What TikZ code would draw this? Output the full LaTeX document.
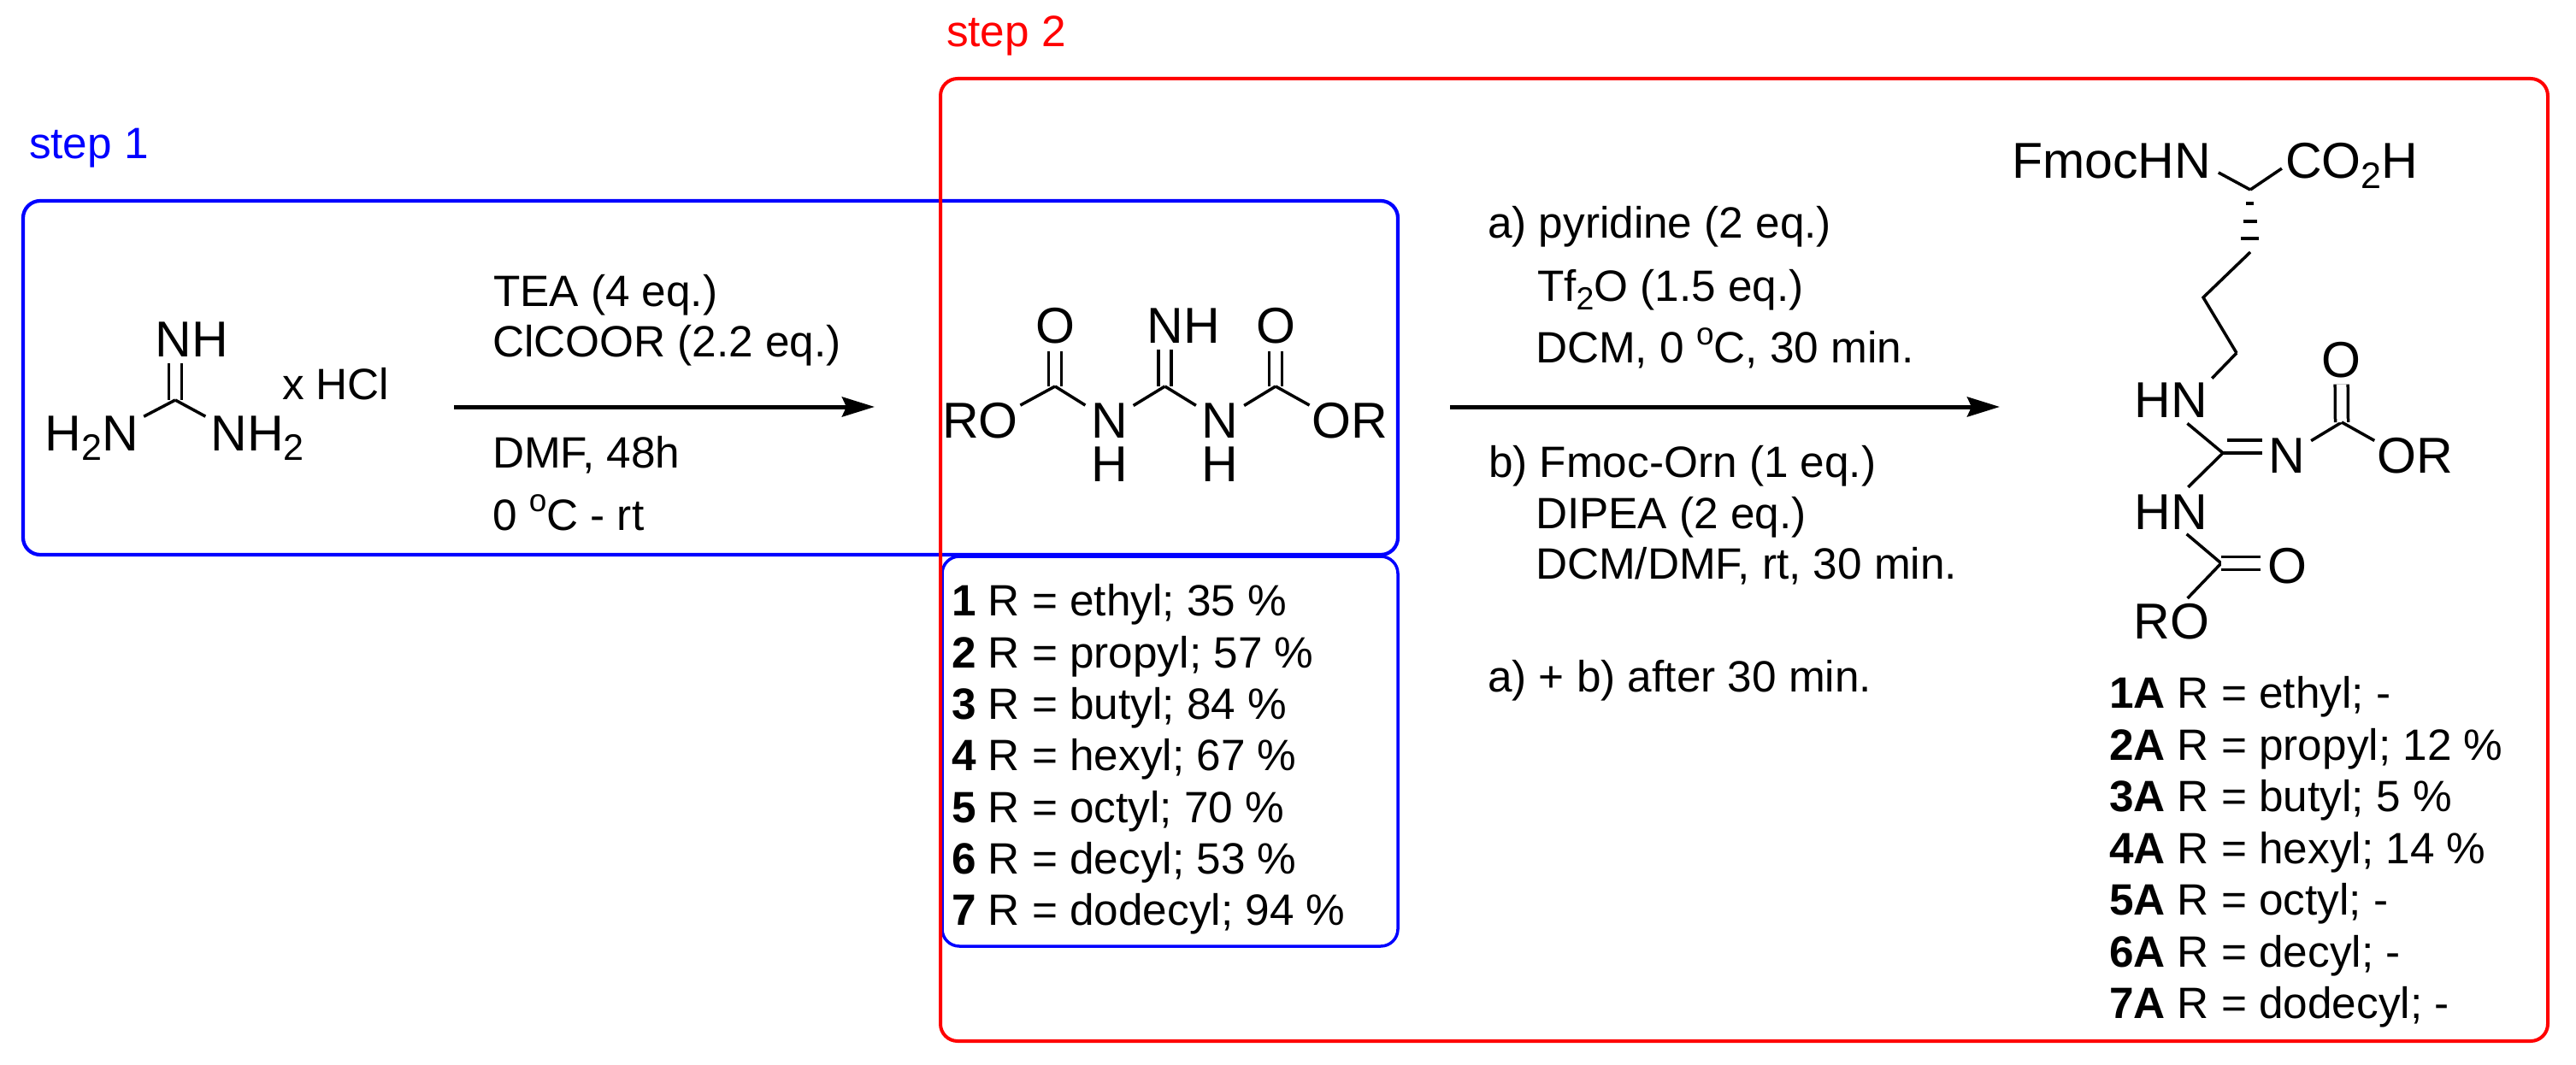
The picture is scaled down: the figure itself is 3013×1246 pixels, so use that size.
\documentclass[tikz,border=0pt]{standalone}
\usepackage{fontspec}
\setmainfont{Liberation Sans}
\usetikzlibrary{arrows.meta}
\newcommand{\subn}[1]{\raisebox{-.2em}{\scalebox{.73}{#1}}}
\newcommand{\degr}{\raisebox{.42em}{\scalebox{.72}{o}}}
\tikzset{
  atom/.style={inner sep=0pt,outer sep=0pt,font=\fontsize{16.8}{20}\selectfont,anchor=base},
  txt/.style={inner sep=0pt,outer sep=0pt,font=\fontsize{14.6}{17}\selectfont,anchor=base west},
  bond/.style={line width=.35mm,shorten >=.8mm},
  bondd/.style={line width=.35mm,double,double distance=1.15mm,shorten >=.8mm},
  hash/.style={line width=.38mm},
  rxn/.style={line width=.5mm,-{Stealth[length=3.8mm,width=2.3mm,inset=.5mm]}},
  boxa/.style={draw=blue,line width=.42mm,rounded corners=2mm},
  boxb/.style={draw=red,line width=.4mm,rounded corners=2mm}
}
\begin{document}
\begin{tikzpicture}[x=.1mm,y=-.1mm]
        \path[use as bounding box] (0,0) rectangle (3013,1246);

        % draw boxes
        \draw[boxa] (27,235) rectangle (1635,649);
        \draw[boxa,line width=.35mm] (1102,651) rectangle (1635,1107);
        \draw[boxb] (1100,92) rectangle (2980,1218);

        % draw step labels
        \node[txt,text=blue] (stepa) at (34,186) {step 1};
        \node[txt,text=red] (stepb) at (1107,55) {step 2};

        % draw guanidine
        \coordinate (cg) at (205,468);
        \node[atom,anchor=base west] (gn) at (181.5,417) {NH};
        \node[atom,anchor=base east] (gl) at (162,527) {H\subn{2}N};
        \node[atom,anchor=base west] (gr) at (246.5,527) {NH\subn{2}};
        \node[txt] (hcl) at (330,467) {x HCl};
        \draw[bondd] (cg) -- (cg |- gn.south);
        \draw[bond,shorten >=.7mm] (cg) -- (gl.22);
        \draw[bond,shorten >=.7mm] (cg) -- (gr.158);

        % draw first arrow and conditions
        \coordinate (arra) at (531,476);
        \coordinate (arrb) at (1023,476);
        \draw[rxn] (arra) -- (arrb);
        \node[txt] (tea) at (577,358) {TEA (4 eq.)};
        \node[txt] (cico) at (576,417) {ClCOOR (2.2 eq.)};
        \node[txt] (dmf) at (576,547) {DMF, 48h};
        \node[txt] (temp) at (576,620) {0 \degr C - rt};

        % draw middle compound
        \coordinate (ca) at (1234,452);
        \coordinate (cb) at (1362.5,452);
        \coordinate (cc) at (1492,452);
        \node[atom] (oa) at (1234,402) {O};
        \node[atom,anchor=base west] (nh) at (1341.5,401) {NH};
        \node[atom] (ob) at (1492,402) {O};
        \node[atom] (ro) at (1146.5,512) {RO};
        \node[atom] (na) at (1297.5,512) {N};
        \node[atom] (ha) at (1297.5,563) {H};
        \node[atom] (nb) at (1427,512) {N};
        \node[atom] (hb) at (1427,563) {H};
        \node[atom] (or) at (1578.5,512) {OR};
        \draw[bondd] (ca) -- (oa);
        \draw[bondd] (cb) -- (cb |- nh.south);
        \draw[bondd] (cc) -- (ob);
        \draw[bond,shorten >=.3mm] (ca) -- (ro.20);
        \draw[bond] (ca) -- (na);
        \draw[bond] (cb) -- (na);
        \draw[bond] (cb) -- (nb);
        \draw[bond] (cc) -- (nb);
        \draw[bond,shorten >=.3mm] (cc) -- (or.160);

        % draw first list
        \foreach \n/\y/\t in {1/720/ethyl; 35 \%,2/781/propyl; 57 \%,3/841/butyl; 84 \%,4/901/hexyl; 67 \%,5/962/octyl; 70 \%,6/1022/decyl; 53 \%,7/1082/dodecyl; 94 \%}
          \node[txt] (lista\n) at (1113,\y) {\textbf{\n} R = \t};

        % draw second arrow and conditions
        \coordinate (arrc) at (1696,476);
        \coordinate (arrd) at (2339,476);
        \draw[rxn] (arrc) -- (arrd);
        \node[txt] (pyr) at (1740,279) {a) pyridine (2 eq.)};
        \node[txt] (tfo) at (1798,352) {Tf\subn{2}O (1.5 eq.)};
        \node[txt] (dcm) at (1796,425) {DCM, 0 \degr C, 30 min.};
        \node[txt] (orn) at (1741,558) {b) Fmoc-Orn (1 eq.)};
        \node[txt] (dip) at (1796,618) {DIPEA (2 eq.)};
        \node[txt] (dmix) at (1796,677) {DCM/DMF, rt, 30 min.};
        \node[txt] (aft) at (1740,809) {a) + b) after 30 min.};

        % draw product
        \coordinate (cs) at (2632,222);
        \coordinate (ce) at (2632,295);
        \coordinate (cf) at (2577,348);
        \coordinate (ch) at (2616,413);
        \coordinate (cj) at (2600,530);
        \coordinate (cm) at (2605,515);
        \coordinate (cp) at (2739,494);
        \coordinate (cq) at (2598,659);
        \node[atom,anchor=base east] (fmoc) at (2586,209) {FmocHN};
        \node[atom,anchor=base west] (co) at (2673,209) {CO\subn{2}H};
        \node[atom] (hna) at (2539,489) {HN};
        \node[atom] (nc) at (2675,553) {N};
        \node[atom] (oc) at (2738.5,441) {O};
        \node[atom] (orb) at (2825,553) {OR};
        \node[atom] (hnb) at (2539,619) {HN};
        \node[atom] (od) at (2675,682) {O};
        \node[atom] (rob) at (2540,747) {RO};
        \draw[bond,shorten >=1mm] (cs) -- (fmoc.356);
        \draw[bond,shorten >=.5mm] (cs) -- (co.west);

        % draw hashed bond
        \foreach \y/\w in {238/4.5,259/8,279/10.7}
          \draw[hash] (2631.5-\w,\y) -- (2631.5+\w,\y);

        \draw[bond,shorten >=0mm,line join=miter] (ce) -- (cf) -- (ch);
        \draw[bond] (ch) -- (hna.north east);
        \draw[bond,shorten >=1mm] (cj) -- (hna.300);
        \draw[bond,shorten >=1.2mm] (cj) -- (hnb.60);
        \draw[bond] (cj) -- (cj -| nc.west);
        \draw[bond] (cm) -- (cm -| nc.west);
        \draw[bond] (cp) -- (nc);
        \draw[bondd] (cp) -- (oc);
        \draw[bond,shorten >=.4mm] (cp) -- (orb.161);
        \draw[bond,shorten >=.9mm] (cq) -- (hnb.300);
        \draw[bond] (cq) -- (rob.58);
        \draw[bondd] (cq) -- (cq -| od.west);

        % draw second list
        \foreach \n/\y/\t in {1/828/ethyl; -,2/889/propyl; 12 \%,3/949/butyl; 5 \%,4/1010/hexyl; 14 \%,5/1070/octyl; -,6/1131/decyl; -,7/1191/dodecyl; -}
          \node[txt] (listb\n) at (2467,\y) {\textbf{\n A} R = \t};
\end{tikzpicture}
\end{document}
